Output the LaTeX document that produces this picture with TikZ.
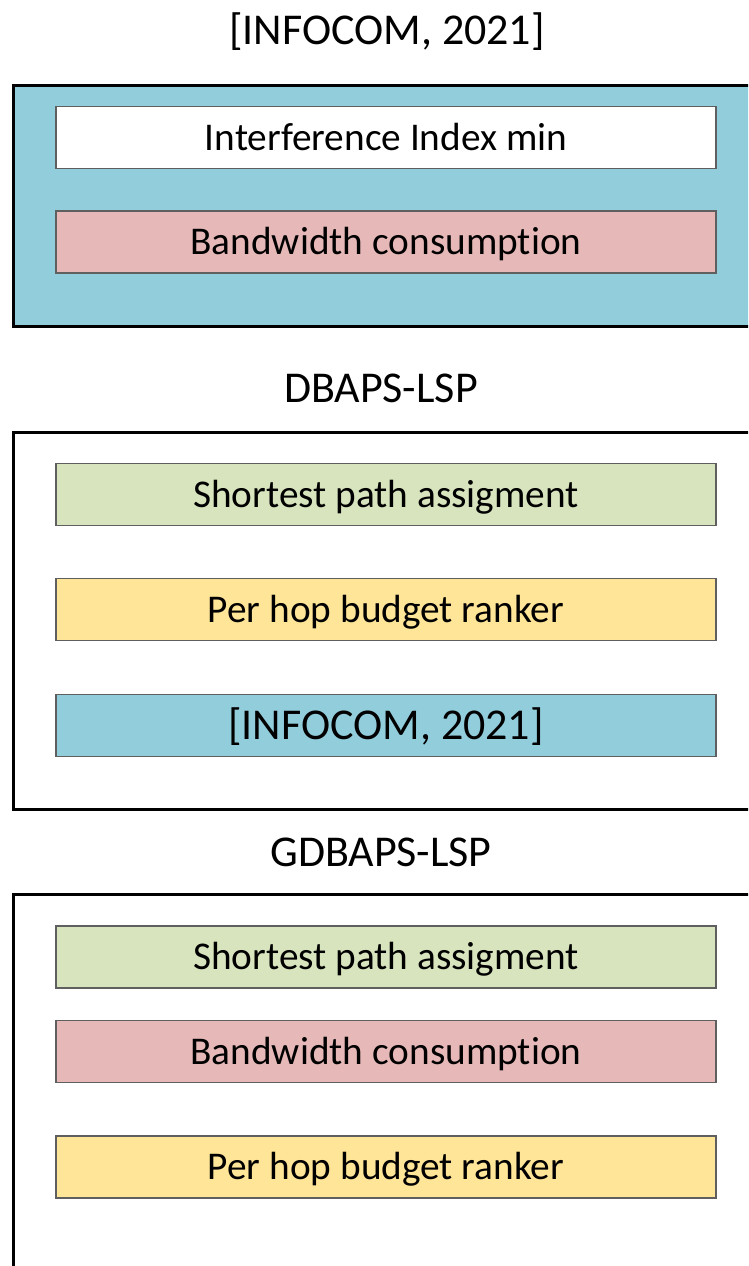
\documentclass[tikz,border=0pt]{standalone}
\usepackage{fontspec}
\setmainfont[Ligatures=NoCommon]{Carlito}
\definecolor{cblue}{HTML}{92CDDC}
\definecolor{cpink}{HTML}{E6B9B8}
\definecolor{cgreen}{HTML}{D7E4BD}
\definecolor{cyellow}{HTML}{FFE597}
\definecolor{cedge}{HTML}{5F5F5F}
\begin{document}
\begin{tikzpicture}[x=1pt,y=-1pt,
  outerbox/.style={draw=black,line width=3pt,minimum width=747pt,inner sep=0pt},
  item/.style={draw=cedge,line width=1.8pt,minimum width=660pt,minimum height=62pt,
    inner sep=0pt,font=\fontsize{39.3}{41}\selectfont,text height=25.3pt,text depth=0pt},
  bigitem/.style={item,font=\fontsize{44}{46}\selectfont,text height=28.3pt},
  title/.style={inner sep=0pt,font=\fontsize{44}{46}\selectfont,text height=28.3pt,text depth=0pt}]
\useasboundingbox (0,0) rectangle (748,1266);
\clip (0,0) rectangle (748,1266);

% first group
\node[title] (t1) at (387,30) {[INFOCOM, 2021]};
\node[outerbox,fill=cblue,minimum height=241pt] (g1) at (386.5,205.5) {};
\node[item,fill=white] (a1) at (386,137.5) {Interference Index min};
\node[item,fill=cpink] (a2) at (386,242) {Bandwidth consumption};

% second group
\node[title] (t2) at (381,388) {DBAPS-LSP};
\node[outerbox,fill=white,minimum height=377pt] (g2) at (386.5,620.5) {};
\node[item,fill=cgreen] (b1) at (386,494.5) {Shortest path assigment};
\node[item,fill=cyellow] (b2) at (386,609.5) {Per hop budget ranker};
\node[bigitem,fill=cblue] (b3) at (386,725.5) {[INFOCOM, 2021]};

% third group
\node[title] (t3) at (381,852) {GDBAPS-LSP};
\node[outerbox,fill=white,minimum height=420pt] (g3) at (386.5,1104) {};
\node[item,fill=cgreen] (c1) at (386,957) {Shortest path assigment};
\node[item,fill=cpink] (c2) at (386,1051.5) {Bandwidth consumption};
\node[item,fill=cyellow] (c3) at (386,1167) {Per hop budget ranker};
\end{tikzpicture}
\end{document}
